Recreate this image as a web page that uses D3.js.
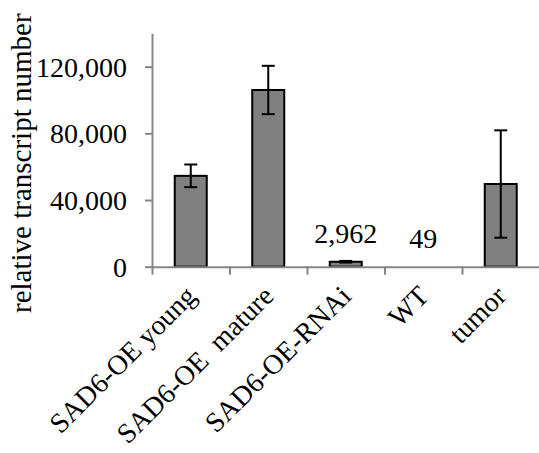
<!DOCTYPE html>
<html>
<head>
<meta charset="utf-8">
<script src="https://cdn.jsdelivr.net/npm/d3@7"></script>
<style>
  html, body { margin: 0; padding: 0; background: #fff; }
  svg { display: block; }
  svg text { font-family: "Liberation Serif", "Times New Roman", Tinos, "DejaVu Serif", serif; }
</style>
</head>
<body>
<div id="chart"></div>
<script>
// --- Data ---
const categories = ['SAD6-OE young', 'SAD6-OE  mature', 'SAD6-OE-RNAi', 'WT', 'tumor'];
const values = [54500, 106000, 2962, 49, 49600];
const errors = [6800, 14500, 500, 0, 32200];
const valueLabels = [null, null, '2,962', '49', null];
const yTicks = [0, 40000, 80000, 120000];

const width = 539, height = 453;
const plotLeft = 152, plotRight = 539.5, plotTop = 33.3, plotBottom = 266.7;
const axisColor = '#868686';
const fontSize = 28;

const rows = categories.map((c, i) => ({ cat: c, value: values[i], err: errors[i], label: valueLabels[i] }));

const svg = d3.select('#chart').append('svg')
  .attr('width', width)
  .attr('height', height);

// --- Scales ---
const x = d3.scaleBand()
  .domain(categories)
  .range([plotLeft, plotRight])
  .paddingInner(0.587)
  .paddingOuter(0.2935);

const y = d3.scaleLinear()
  .domain([0, 140000])
  .range([plotBottom, plotTop]);

// boundaries between categories, for the x-axis ticks
const edges = d3.scaleLinear().domain([0, categories.length]).range([plotLeft, plotRight]);

// --- Bars (a bar under a pixel tall disappears into the axis, as in Excel) ---
svg.selectAll('.bar')
  .data(rows.filter(d => y(0) - y(d.value) >= 1))
  .enter()
  .append('rect')
  .attr('class', 'bar')
  .attr('x', d => x(d.cat))
  .attr('y', d => y(d.value))
  .attr('width', x.bandwidth())
  .attr('height', d => y(0) - y(d.value))
  .attr('fill', '#808080')
  .attr('stroke', '#000')
  .attr('stroke-width', 2);

// --- Error bars ---
const errG = svg.append('g').attr('stroke', '#000').attr('stroke-width', 2);
rows.filter(d => d.err > 0).forEach(d => {
  const cx = x(d.cat) + x.bandwidth() / 2;
  const y1 = y(d.value + d.err), y2 = y(Math.max(0, d.value - d.err));
  errG.append('line').attr('x1', cx).attr('x2', cx).attr('y1', y1).attr('y2', y2);
  errG.append('line').attr('x1', cx - 6.5).attr('x2', cx + 6.5).attr('y1', y1).attr('y2', y1);
  errG.append('line').attr('x1', cx - 6.5).attr('x2', cx + 6.5).attr('y1', y2).attr('y2', y2);
});

// --- Axes ---
const yAxis = svg.append('g')
  .attr('transform', `translate(${plotLeft},0)`)
  .call(d3.axisLeft(y).tickValues(yTicks).tickFormat(d3.format(',')).tickSize(7).tickSizeOuter(0));

const xAxis = svg.append('g')
  .attr('transform', `translate(0,${plotBottom})`)
  .call(d3.axisBottom(edges).tickValues(d3.range(categories.length + 1)).tickFormat('').tickSize(8).tickSizeOuter(0));

[yAxis, xAxis].forEach(g => {
  g.attr('font-family', null).attr('font-size', null);
  g.select('.domain').attr('stroke', axisColor).attr('stroke-width', 2);
  g.selectAll('.tick line').attr('stroke', axisColor).attr('stroke-width', 2);
});

yAxis.selectAll('.tick text')
  .attr('x', -25)
  .attr('dy', '0.34em')
  .attr('font-size', fontSize)
  .attr('fill', '#000');

// --- Category labels ---
svg.append('g').selectAll('text')
  .data(categories)
  .enter()
  .append('text')
  .attr('transform', d => `translate(${x(d) + x.bandwidth() / 2 + 7},${plotBottom + 31}) rotate(-45)`)
  .attr('text-anchor', 'end')
  .attr('font-size', fontSize)
  .attr('fill', '#000')
  .style('white-space', 'pre')
  .text(d => d);

// --- Value labels ---
svg.append('g').selectAll('text')
  .data(rows.filter(d => d.label))
  .enter()
  .append('text')
  .attr('x', d => x(d.cat) + x.bandwidth() / 2)
  .attr('y', d => y(d.value) - 18.5)
  .attr('text-anchor', 'middle')
  .attr('font-size', fontSize)
  .attr('fill', '#000')
  .text(d => d.label);

// --- Y axis title ---
svg.append('text')
  .attr('transform', 'translate(31,313) rotate(-90)')
  .attr('text-anchor', 'start')
  .attr('font-size', 29)
  .attr('fill', '#000')
  .text('relative transcript number');
</script>
</body>
</html>
